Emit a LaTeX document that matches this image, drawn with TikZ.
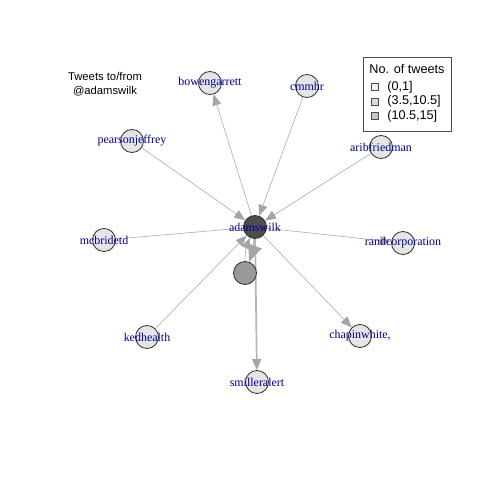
\documentclass[tikz,border=0pt]{standalone}
\usepackage{fontspec}
\setmainfont{Liberation Sans}
\newfontfamily\vlabelfont{Liberation Serif}
\usetikzlibrary{arrows.meta,backgrounds}

\definecolor{vlabelblue}{RGB}{0,0,150}
\definecolor{edgegray}{RGB}{180,180,180}
\definecolor{tipgray}{RGB}{165,165,165}
\definecolor{leafgray}{RGB}{229,229,229}
\definecolor{midgray}{RGB}{153,153,153}
\definecolor{hubgray}{RGB}{77,77,77}

\begin{document}
\begin{tikzpicture}[x=0.025cm, y=-0.025cm,
    vertex/.style={circle, draw=black!80, line width=0.6pt, inner sep=0pt, minimum size=0.575cm},
    vlab/.style={font=\vlabelfont\fontsize{8.5}{10}\selectfont, text=vlabelblue, inner sep=0pt},
    edge/.style={draw=edgegray, line width=0.5pt, -{Triangle[length=7.8pt, width=6.4pt, color=tipgray]}},
    keybox/.style={draw=black!70, line width=0.5pt, minimum size=0.175cm, inner sep=0pt}]
    \useasboundingbox (0,0) rectangle (480,480);
    % title
    \node[align=center, font=\fontsize{8}{10}\selectfont] (title) at (105,84) {Tweets to/from\\@adamswilk};
    % vertices
    \node[vertex, fill=hubgray, label={[vlab]center:adamswilk}] (adamswilk) at (255,227) {};
    \node[vertex, fill=midgray] (unnamed) at (245,273) {};
    \foreach \id/\txt/\px/\py in {bowengarrett/bowengarrett/210/83, cmmhr/cmmhr/307/86,
        pearsonjeffrey/pearsonjeffrey/132/141, aribfriedman/aribfriedman/381/147,
        mcbridetd/mcbridetd/104/240, randcorporation/randcorporation/403/243,
        kedhealth/kedhealth/147/337, smilleralert/smilleralert/257/382,
        chapinwhite/{chapinwhite,}/360/336}
        \node[vertex, fill=leafgray, label={[vlab]center:\txt}] (\id) at (\px,\py) {};
    % edges
    \begin{scope}[on background layer]
        \draw[edge] (adamswilk) -- (bowengarrett);
        \draw[edge] (cmmhr) -- (adamswilk);
        \draw[edge] (pearsonjeffrey) -- (adamswilk);
        \draw[edge] (aribfriedman) -- (adamswilk);
        \draw[edge, -] (mcbridetd) -- (adamswilk);
        \draw[edge] (adamswilk) -- (randcorporation);
        \draw[edge] (kedhealth) -- (adamswilk);
        \draw[edge, line width=1.2pt] (adamswilk) -- (smilleralert);
        \draw[edge] (adamswilk) -- (chapinwhite);
        \draw[edge] (unnamed) to[bend left=12] (adamswilk);
        \draw[edge, line width=1pt, -{Triangle[length=12pt, width=10pt, color=tipgray]}] (adamswilk) to[bend left=8] (unnamed);
    \end{scope}
    % legend
    \draw[draw=black!70, line width=0.5pt] (363,57) rectangle (451,131);
    \node[font=\fontsize{9}{11}\selectfont] (keytitle) at (407,69) {No. of tweets};
    \foreach \k/\shade/\txt/\py in {a/gray!12/{(0,1]}/87, b/gray!28/{(3.5,10.5]}/101.5, c/gray!45/{(10.5,15]}/116}{
        \node[keybox, fill=\shade] (key\k) at (374.5,\py) {};
        \node[anchor=west, inner sep=0pt, font=\fontsize{9}{11}\selectfont] (keytext\k) at (387,\py) {\txt};
    }
\end{tikzpicture}
\end{document}
